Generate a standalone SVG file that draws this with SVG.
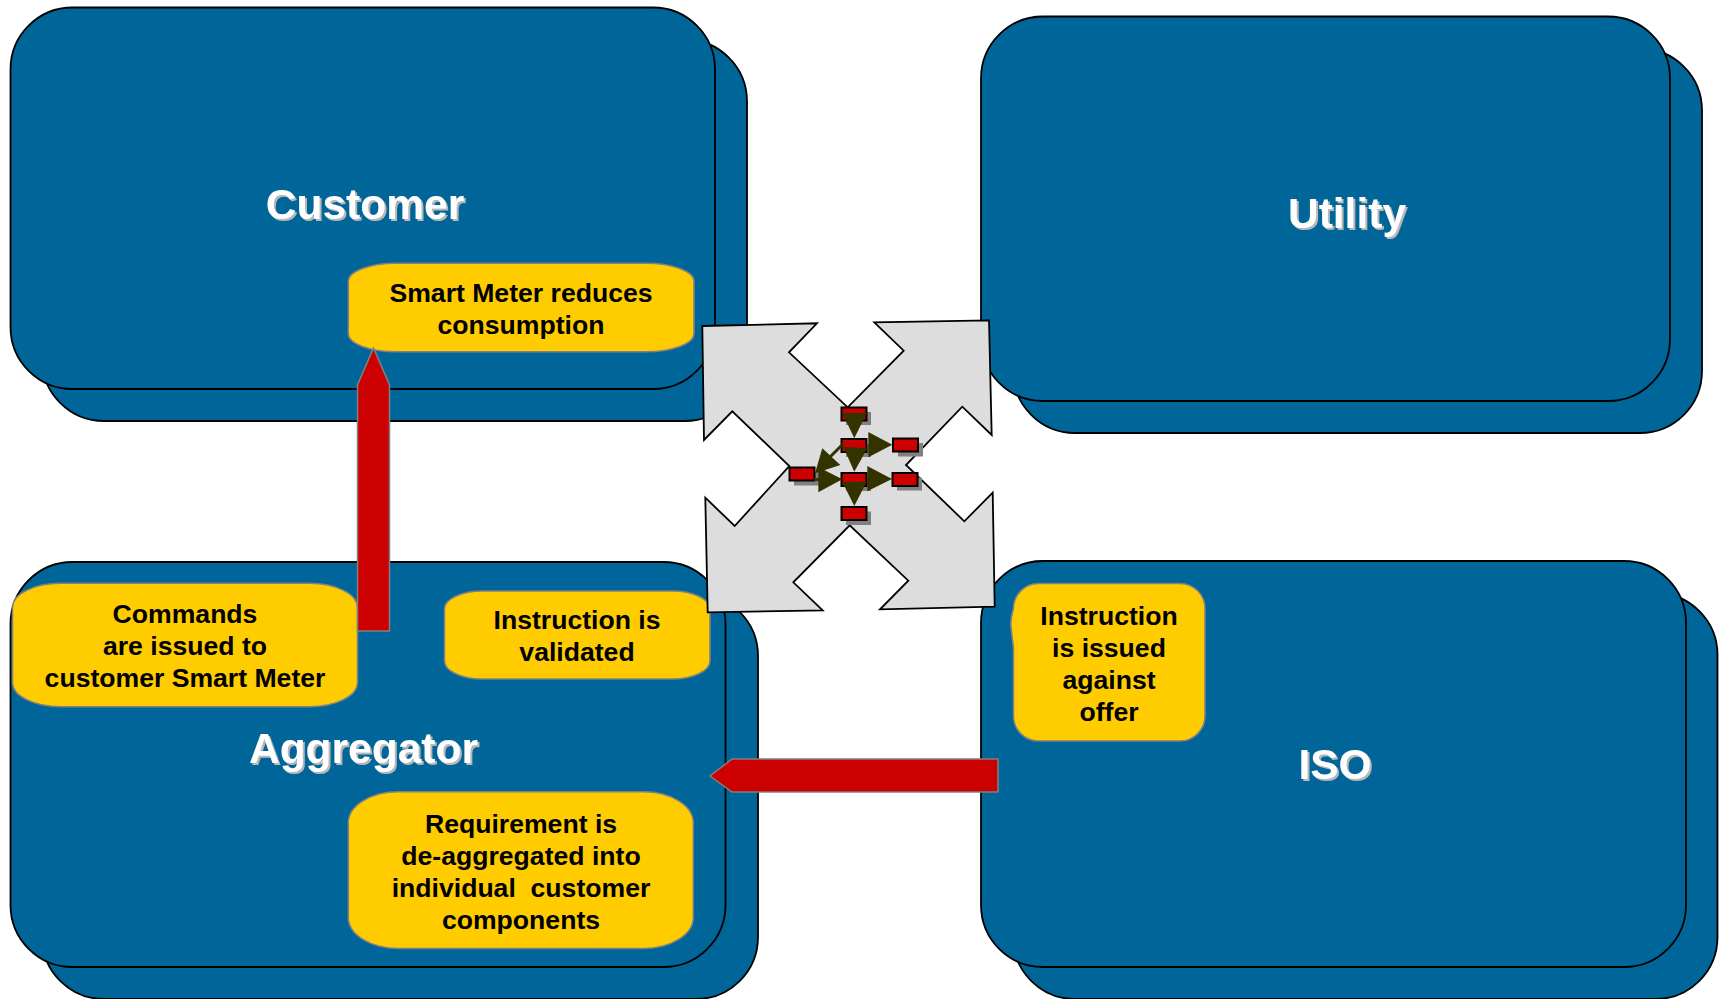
<svg xmlns="http://www.w3.org/2000/svg" width="1719" height="999" viewBox="0 0 1719 999">
<style>
text{font-family:"Liberation Sans",Arial,sans-serif;font-weight:700;text-anchor:middle}
.panel{fill:#006699;stroke:#000;stroke-width:1.8}
.title{fill:#fff;font-size:42.500px;filter:drop-shadow(2px 2px 0 #b8b8b8)}
.note{fill:#ffcc00;stroke:#808080;stroke-width:1.5}
.note-text{fill:#000;font-size:26.600px}
.big{fill:#cc0000;stroke:#808080;stroke-width:1.5}
.cross{fill:#dddddd;stroke:#000;stroke-width:1.8;stroke-linejoin:miter}
.hub-shadow{fill:#808080}
.hub{fill:#cc0000;stroke:#000;stroke-width:2}
.head{fill:#333300}
.link{stroke:#333300;stroke-width:3;fill:none}
</style>
<rect width="1719" height="999" fill="#fff"/>
<g id="customer">
<rect class="panel" x="42" y="39.500" width="705" height="381.500" rx="62" ry="62"/>
<rect class="panel" x="10.500" y="7.500" width="704.500" height="381.500" rx="62" ry="62"/>
<text class="title" x="365" y="219">Customer</text>
</g>
<g id="utility">
<rect class="panel" x="1013" y="48.500" width="689" height="384.500" rx="62" ry="62"/>
<rect class="panel" x="981" y="16.500" width="689" height="384.500" rx="62" ry="62"/>
<text class="title" x="1347" y="228">Utility</text>
</g>
<g id="aggregator">
<rect class="panel" x="42" y="594" width="716" height="405" rx="62" ry="62"/>
<rect class="panel" x="10.500" y="562" width="715" height="405" rx="62" ry="62"/>
<text class="title" x="363.500" y="763">Aggregator</text>
</g>
<g id="iso">
<rect class="panel" x="1013" y="593" width="704.500" height="406" rx="62" ry="62"/>
<rect class="panel" x="981" y="561" width="705" height="406" rx="62" ry="62"/>
<text class="title" x="1335" y="779">ISO</text>
</g>
<g id="note-smart-meter">
<rect class="note" x="348.300" y="263.300" width="345.700" height="88.500" rx="48" ry="18"/>
<text class="note-text" x="521" y="302">Smart Meter reduces</text>
<text class="note-text" x="521" y="334">consumption</text>
</g>
<g id="note-commands">
<rect class="note" x="12.500" y="583.300" width="345" height="123.400" rx="48" ry="24"/>
<text class="note-text" x="185" y="623">Commands</text>
<text class="note-text" x="185" y="655">are issued to</text>
<text class="note-text" x="185" y="687">customer Smart Meter</text>
</g>
<g id="note-validated">
<rect class="note" x="444.500" y="591" width="265.500" height="88" rx="38" ry="18"/>
<text class="note-text" x="577" y="629">Instruction is</text>
<text class="note-text" x="577" y="661">validated</text>
</g>
<g id="note-requirement">
<rect class="note" x="348.300" y="791.700" width="345" height="156.800" rx="50" ry="31"/>
<text class="note-text" x="521" y="833">Requirement is</text>
<text class="note-text" x="521" y="865">de-aggregated into</text>
<text class="note-text" x="521" y="897" xml:space="preserve">individual  customer</text>
<text class="note-text" x="521" y="929">components</text>
</g>
<g id="note-issued">
<path class="note" d="M1039 583.500H1180A25 25 0 0 1 1205 608.500V716A25 25 0 0 1 1180 741H1039A25 25 0 0 1 1013.500 716V648Q1012 636 1010.800 625Q1010.800 618 1013.500 608.500A25 25 0 0 1 1039 583.500Z"/>
<text class="note-text" x="1109" y="625">Instruction</text>
<text class="note-text" x="1109" y="657">is issued</text>
<text class="note-text" x="1109" y="689">against</text>
<text class="note-text" x="1109" y="721">offer</text>
</g>
<g id="connectors">
<polygon class="big" points="357.500,631 357.500,385 373.500,348 389.500,385 389.500,631"/>
<polygon class="big" points="998,759 732,759 710,776 732,792 998,792"/>
<polygon class="cross" points="702.300,326 817,323.300 789,352.300 847.700,407.300 903.700,350.700 874.300,322.300 989,320.300 991.700,435 962.300,406.700 906,465 964.300,521.300 992.700,492.700 994.700,606.700 880,609.300 908.300,580.700 849.700,525.300 793.300,582.300 822.700,610.300 707.700,612.300 705.300,497.700 734.700,526 789.300,466 732.300,411.300 704,440"/>
<g id="hub-shadows">
<rect class="hub-shadow" x="846" y="412" width="25" height="13"/>
<rect class="hub-shadow" x="846" y="444" width="25" height="13"/>
<rect class="hub-shadow" x="898" y="443" width="25" height="13.500"/>
<rect class="hub-shadow" x="794" y="472" width="25" height="13.500"/>
<rect class="hub-shadow" x="846" y="478" width="25" height="13"/>
<rect class="hub-shadow" x="897" y="477.500" width="25" height="13"/>
<rect class="hub-shadow" x="846" y="511.500" width="25" height="13.500"/>
</g>
<g id="hubs">
<rect id="hub-1" class="hub" x="841.500" y="407.500" width="25" height="13"/>
<rect id="hub-2" class="hub" x="841.500" y="439" width="25" height="13"/>
<rect id="hub-3" class="hub" x="893" y="438.500" width="25" height="13"/>
<rect id="hub-4" class="hub" x="789.500" y="467.500" width="25" height="13"/>
<rect id="hub-5" class="hub" x="841.500" y="473" width="25" height="13"/>
<rect id="hub-6" class="hub" x="892.500" y="473" width="25" height="13"/>
<rect id="hub-7" class="hub" x="841.500" y="507" width="25" height="13"/>
</g>
<path class="link" d="M843.500 443.500L830 457M814 479.500H819"/>
<polygon class="head" points="842.300,413 866.700,413 854.300,438.300"/>
<polygon class="head" points="843.300,446.700 867.300,448.300 854.300,471.700"/>
<polygon class="head" points="842.300,481.700 866.700,481.700 854.300,506"/>
<polygon class="head" points="868.300,432 868.300,457.300 892.300,444.700"/>
<polygon class="head" points="867.300,466 867.300,491.300 892,479"/>
<polygon class="head" points="818.300,467 818.300,492.300 842.300,479.300"/>
<polygon class="head" points="815,473.300 822.300,448.300 840.300,465"/>
</g>
</svg>
